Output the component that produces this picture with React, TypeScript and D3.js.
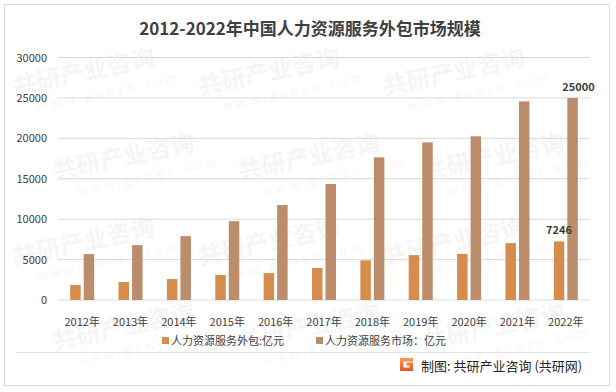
import React from 'react'
import * as d3 from 'd3'

const years = ['2012年', '2013年', '2014年', '2015年', '2016年', '2017年', '2018年', '2019年', '2020年', '2021年', '2022年']
const outsourcing = [1850, 2220, 2590, 3090, 3330, 3950, 4900, 5550, 5700, 7040, 7246]
const market = [5680, 6790, 7900, 9750, 11750, 14350, 17650, 19500, 20250, 24570, 25000]
const yTicks = [0, 5000, 10000, 15000, 20000, 25000, 30000]
const seriesNames = ['人力资源服务外包:亿元', '人力资源服务市场：亿元']
const colors = ['#D58C4D', '#BC8D6B']

const W = 616
const H = 392
const font = '"Noto Sans CJK SC", "Microsoft YaHei", sans-serif'

export default function App() {
    const x = d3.scaleBand<string>().domain(years).range([58, 590])
    const y = d3.scaleLinear().domain([0, 30000]).range([300, 57.5])
    const barW = 10.5
    const gap = 3

    // faint watermarks, kept inside the frame
    const marks: [number, number][] = []
    for (let r = 0; r < 4; r++) {
        for (let c = 0; c < 3; c++) {
            marks.push([15 + c * 185 + (r % 2) * 40, 95 + r * 85])
        }
    }

    return (
        <svg width={W} height={H} style={{ position: 'absolute', left: 0, top: 0, background: '#fff' }} fontFamily={font}>
            <defs>
                <linearGradient id="logo" x1="0" y1="0" x2="0" y2="1">
                    <stop offset="0" stopColor="#F6A04A" />
                    <stop offset="1" stopColor="#E8542E" />
                </linearGradient>
            </defs>
            <rect x={4.5} y={4.5} width={605} height={381} fill="#fff" stroke="#D9D9D9" />

            {marks.map(([mx, my], i) => (
                <g key={i} transform={`translate(${mx},${my}) rotate(-12)`} opacity={0.035}>
                    <text fontSize={24} fontWeight="bold" fill="#000">共研产业咨询</text>
                    <text x={20} y={20} fontSize={12} fill="#000" letterSpacing={4}>www.gonyn.com</text>
                </g>
            ))}

            <text x={310} y={35} textAnchor="middle" fontSize={17} fontWeight="bold" fill="#404040">
                2012-2022年中国人力资源服务外包市场规模
            </text>

            {yTicks.map(t => (
                <g key={t}>
                    <line x1={58} x2={590} y1={y(t)} y2={y(t)} stroke="#D9D9D9" strokeWidth={1} />
                    <text x={47} y={y(t) + 4} textAnchor="end" fontSize={11} fill="#404040">{t}</text>
                </g>
            ))}

            {years.map((yr, i) => {
                const cx = (x(yr) as number) + x.bandwidth() / 2
                return (
                    <g key={yr}>
                        <rect x={cx - gap / 2 - barW} y={y(outsourcing[i])} width={barW} height={y(0) - y(outsourcing[i])} fill={colors[0]} />
                        <rect x={cx + gap / 2} y={y(market[i])} width={barW} height={y(0) - y(market[i])} fill={colors[1]} />
                        <text x={cx} y={326} textAnchor="middle" fontSize={11} fill="#404040">{yr}</text>
                    </g>
                )
            })}

            {(() => {
                const cx = (x(years[10]) as number) + x.bandwidth() / 2
                return (
                    <g fontSize={11} fontWeight="bold" fill="#404040" textAnchor="middle">
                        <text x={cx - gap / 2 - barW / 2} y={y(outsourcing[10]) - 7}>{outsourcing[10]}</text>
                        <text x={cx + gap / 2 + barW / 2 + 6} y={y(market[10]) - 7}>{market[10]}</text>
                    </g>
                )
            })()}

            <g fontSize={11} fill="#404040">
                <rect x={162} y={337} width={7} height={7} fill={colors[0]} />
                <text x={171} y={345}>{seriesNames[0]}</text>
                <rect x={316} y={337} width={7} height={7} fill={colors[1]} />
                <text x={325} y={345}>{seriesNames[1]}</text>
            </g>

            <line x1={16} x2={590} y1={352.5} y2={352.5} stroke="#E3E3E3" />

            <path d="M400,358 h13 v3.5 h-9.5 v6 h6 v-2 h-3 v-3 h6.5 v8.5 h-13 z" fill="url(#logo)" />
            <text x={421} y={371} fontSize={13} fill="#262626">制图: 共研产业咨询 (共研网)</text>
        </svg>
    )
}
